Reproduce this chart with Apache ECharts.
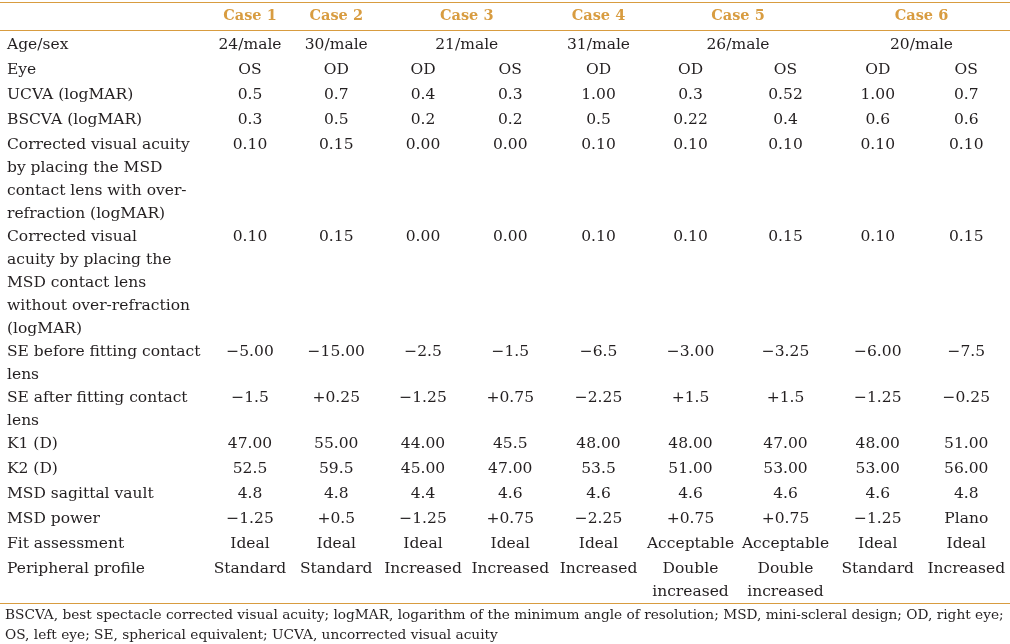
<!DOCTYPE html>
<html>
<head>
<meta charset="utf-8">
<script src="https://cdn.jsdelivr.net/npm/echarts@6.0.0/dist/echarts.min.js"></script>
<style>
  html, body { margin: 0; padding: 0; background: #ffffff; }
  #chart { width: 1010px; height: 644px; }
</style>
</head>
<body>
<div id="chart"></div>
<script>
// ---------------- DATA ----------------
const caseHeaders = ['Case 1', 'Case 2', 'Case 3', 'Case 4', 'Case 5', 'Case 6'];
const caseEyeCounts = [1, 1, 2, 1, 2, 2];
const ageSex = ['24/male', '30/male', '21/male', '31/male', '26/male', '20/male'];

const rowLabels = [
  'Eye',
  'UCVA (logMAR)',
  'BSCVA (logMAR)',
  'Corrected visual acuity\nby placing the MSD\ncontact lens with over-\nrefraction (logMAR)',
  'Corrected visual\nacuity by placing the\nMSD contact lens\nwithout over-refraction\n(logMAR)',
  'SE before fitting contact\nlens',
  'SE after fitting contact\nlens',
  'K1 (D)',
  'K2 (D)',
  'MSD sagittal vault',
  'MSD power',
  'Fit assessment',
  'Peripheral profile'
];
const ageSexLabel = 'Age/sex';

const eye        = ['OS', 'OD', 'OD', 'OS', 'OD', 'OD', 'OS', 'OD', 'OS'];
const ucva       = ['0.5', '0.7', '0.4', '0.3', '1.00', '0.3', '0.52', '1.00', '0.7'];
const bscva      = ['0.3', '0.5', '0.2', '0.2', '0.5', '0.22', '0.4', '0.6', '0.6'];
const cvaWithOR  = ['0.10', '0.15', '0.00', '0.00', '0.10', '0.10', '0.10', '0.10', '0.10'];
const cvaNoOR    = ['0.10', '0.15', '0.00', '0.00', '0.10', '0.10', '0.15', '0.10', '0.15'];
const seBefore   = ['\u22125.00', '\u221215.00', '\u22122.5', '\u22121.5', '\u22126.5', '\u22123.00', '\u22123.25', '\u22126.00', '\u22127.5'];
const seAfter    = ['\u22121.5', '+0.25', '\u22121.25', '+0.75', '\u22122.25', '+1.5', '+1.5', '\u22121.25', '\u22120.25'];
const k1         = ['47.00', '55.00', '44.00', '45.5', '48.00', '48.00', '47.00', '48.00', '51.00'];
const k2         = ['52.5', '59.5', '45.00', '47.00', '53.5', '51.00', '53.00', '53.00', '56.00'];
const sagVault   = ['4.8', '4.8', '4.4', '4.6', '4.6', '4.6', '4.6', '4.6', '4.8'];
const msdPower   = ['\u22121.25', '+0.5', '\u22121.25', '+0.75', '\u22122.25', '+0.75', '+0.75', '\u22121.25', 'Plano'];
const fitAssess  = ['Ideal', 'Ideal', 'Ideal', 'Ideal', 'Ideal', 'Acceptable', 'Acceptable', 'Ideal', 'Ideal'];
const periphProf = ['Standard', 'Standard', 'Increased', 'Increased', 'Increased', 'Double\nincreased', 'Double\nincreased', 'Standard', 'Increased'];

const footnote = 'BSCVA, best spectacle corrected visual acuity; logMAR, logarithm of the minimum angle of resolution; MSD, mini-scleral design; OD, right eye;\nOS, left eye; SE, spherical equivalent; UCVA, uncorrected visual acuity';

const bodyValues = [eye, ucva, bscva, cvaWithOR, cvaNoOR, seBefore, seAfter, k1, k2, sagVault, msdPower, fitAssess, periphProf];

// ---------------- LAYOUT / STYLE ----------------
const W = 1010, H = 644;
const colWidths = [207, 86, 86.5, 87, 87.5, 89, 95, 95, 89.5, 87.5];
const LABEL_PAD = 7;
const LINE_H = 23;
const ROW_MIN = 25;
const RULE_TOP = 2.5, RULE_HEAD = 30.5;
const HEAD_TEXT_TOP = 4.5;
const BODY_TOP = 32;
const TEXT_OFFSET = 1;
const FONT_FAMILY = '"DejaVu Serif", serif';
const BODY_FONT = '15.5px ' + FONT_FAMILY;
const HEAD_FONT = 'bold 14.5px ' + FONT_FAMILY;
const ORANGE = '#D89C40';
const INK = '#231F20';

// column geometry
const colLeft = [];
let acc = 0;
colWidths.forEach(w => { colLeft.push(acc); acc += w; });
const colCenter = colWidths.map((w, i) => colLeft[i] + w / 2);

// case -> value-column index ranges
const caseRanges = [];
let ci = 1;
caseEyeCounts.forEach(n => { caseRanges.push([ci, ci + n - 1]); ci += n; });
const caseCenter = caseRanges.map(r => (colLeft[r[0]] + colLeft[r[1]] + colWidths[r[1]]) / 2);

const nLines = s => String(s).split('\n').length;

const cells = [];
// header
caseHeaders.forEach((h, i) => cells.push({ x: caseCenter[i], y: HEAD_TEXT_TOP, text: h, font: HEAD_FONT, fill: ORANGE, align: 'center' }));

let y = BODY_TOP;
// age/sex row (merged per case)
cells.push({ x: LABEL_PAD, y: y + TEXT_OFFSET, text: ageSexLabel, font: BODY_FONT, fill: INK, align: 'left' });
ageSex.forEach((v, i) => cells.push({ x: caseCenter[i], y: y + TEXT_OFFSET, text: v, font: BODY_FONT, fill: INK, align: 'center' }));
y += ROW_MIN;

bodyValues.forEach((vals, r) => {
  const label = rowLabels[r];
  let lines = nLines(label);
  vals.forEach(v => { lines = Math.max(lines, nLines(v)); });
  cells.push({ x: LABEL_PAD, y: y + TEXT_OFFSET, text: label, font: BODY_FONT, fill: INK, align: 'left' });
  vals.forEach((v, c) => cells.push({ x: colCenter[c + 1], y: y + TEXT_OFFSET, text: v, font: BODY_FONT, fill: INK, align: 'center' }));
  y += Math.max(ROW_MIN, lines * LINE_H);
});
const RULE_BOTTOM = y + 1.5;
const rules = [RULE_TOP, RULE_HEAD, RULE_BOTTOM];

const chart = echarts.init(document.getElementById('chart'), null, { renderer: 'canvas' });
chart.setOption({
  animation: false,
  backgroundColor: '#ffffff',
  title: {
    text: footnote,
    left: 5,
    top: RULE_BOTTOM + 2,
    padding: 0,
    textStyle: { fontFamily: FONT_FAMILY, fontSize: 13.7, fontWeight: 'normal', color: INK, lineHeight: 20 }
  },
  grid: { left: 0, right: 0, top: 0, bottom: 0 },
  xAxis: { type: 'value', min: 0, max: W, show: false },
  yAxis: { type: 'value', min: 0, max: H, inverse: true, show: false },
  series: [
    {
      type: 'custom',
      silent: true,
      data: rules.map(r => [0, r]),
      renderItem: (params, api) => {
        const a = api.coord([0, api.value(1)]);
        const b = api.coord([W, api.value(1)]);
        return { type: 'line', shape: { x1: a[0], y1: a[1], x2: b[0], y2: b[1] }, style: { stroke: ORANGE, lineWidth: 1.2 } };
      }
    },
    {
      type: 'custom',
      silent: true,
      data: cells.map(c => [c.x, c.y]),
      renderItem: (params, api) => {
        const c = cells[params.dataIndex];
        const p = api.coord([api.value(0), api.value(1)]);
        return {
          type: 'text', x: p[0], y: p[1],
          style: { text: c.text, font: c.font, fill: c.fill, align: c.align, verticalAlign: 'top', lineHeight: LINE_H }
        };
      }
    }
  ]
});
</script>
</body>
</html>
